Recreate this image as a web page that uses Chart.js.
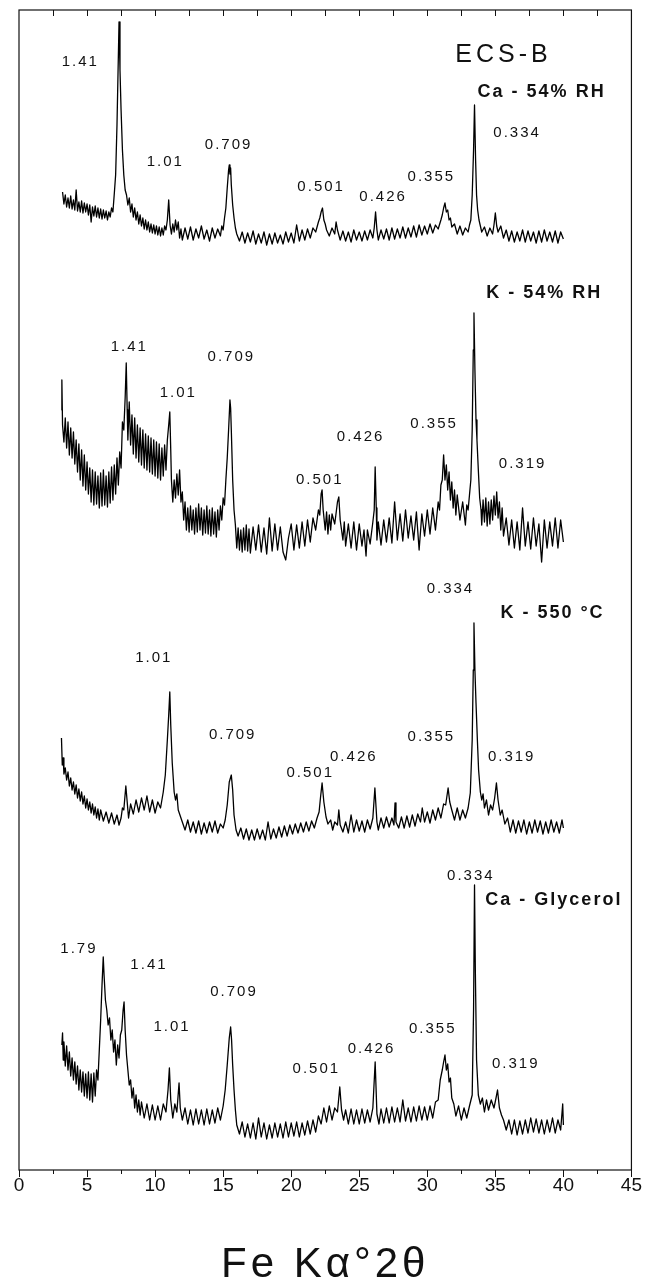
<!DOCTYPE html>
<html>
<head>
<meta charset="utf-8">
<script src="https://cdn.jsdelivr.net/npm/chart.js@4.4.1/dist/chart.umd.min.js"></script>
<style>
  html, body { margin: 0; padding: 0; background: #fff; }
  #xrd { display: block; }
</style>
</head>
<body>
<canvas id="xrd" width="646" height="1281"></canvas>
<script>
// XRD patterns ECS-B, traces stacked (intensity + offset, arbitrary units)
// x = Fe K-alpha degrees 2-theta

const caRh = [
  [3.2,978],[3.3,966],[3.4,975],[3.5,963],[3.6,972],[3.7,962],[3.8,974],[3.9,961],[4.0,970],[4.1,960],
  [4.2,980],[4.3,959],[4.4,968],[4.5,958],[4.6,969],[4.7,957],[4.8,967],[4.9,958],[5.0,966],[5.1,955],
  [5.2,965],[5.3,948],[5.4,963],[5.5,954],[5.6,964],[5.7,953],[5.8,962],[5.9,952],[6.0,961],[6.1,951],
  [6.2,960],[6.3,952],[6.4,959],[6.5,950],[6.6,958],[6.7,953],[6.8,962],[6.9,958],[7.0,976],[7.1,995],
  [7.2,1045],[7.28,1100],[7.35,1148],[7.42,1100],[7.5,1060],[7.6,1020],[7.7,995],[7.8,980],[7.9,975],[8.0,965],
  [8.1,972],[8.2,958],[8.3,966],[8.4,953],[8.5,962],[8.6,950],[8.7,958],[8.8,946],[8.9,955],[9.0,944],
  [9.1,952],[9.2,941],[9.3,950],[9.4,940],[9.5,948],[9.6,938],[9.7,946],[9.8,937],[9.9,945],[10.0,936],
  [10.1,944],[10.2,935],[10.3,943],[10.4,934],[10.5,942],[10.6,935],[10.7,944],[10.8,940],[10.9,950],[11.0,970],
  [11.1,945],[11.2,936],[11.3,946],[11.4,938],[11.5,950],[11.6,940],[11.7,948],[11.8,932],[11.9,941],[12.0,930],
  [12.2,942],[12.4,931],[12.6,943],[12.8,930],[13.0,941],[13.2,932],[13.4,944],[13.6,931],[13.8,940],[14.0,929],
  [14.2,942],[14.4,932],[14.6,941],[14.8,934],[14.9,944],[15.0,940],[15.1,952],[15.2,962],[15.3,982],[15.4,1000],
  [15.45,1005],[15.5,996],[15.55,1002],[15.6,985],[15.7,965],[15.8,952],[15.9,942],[16.0,936],[16.2,929],[16.4,938],
  [16.6,927],[16.8,937],[17.0,928],[17.2,939],[17.4,926],[17.6,936],[17.8,927],[18.0,938],[18.2,925],[18.4,936],
  [18.6,926],[18.8,937],[19.0,927],[19.2,935],[19.4,926],[19.6,938],[19.8,928],[20.0,937],[20.2,927],[20.4,945],
  [20.6,929],[20.8,940],[21.0,930],[21.2,941],[21.4,932],[21.6,942],[21.8,938],[22.0,948],[22.1,952],[22.2,958],
  [22.3,962],[22.4,950],[22.5,946],[22.6,940],[22.8,934],[23.0,942],[23.2,936],[23.3,948],[23.4,940],[23.6,930],
  [23.8,939],[24.0,929],[24.2,938],[24.4,928],[24.6,940],[24.8,930],[25.0,938],[25.2,929],[25.4,939],[25.6,930],
  [25.8,940],[26.0,932],[26.1,942],[26.2,958],[26.3,940],[26.4,930],[26.6,940],[26.8,931],[27.0,941],[27.2,930],
  [27.4,942],[27.6,931],[27.8,941],[28.0,932],[28.2,943],[28.4,932],[28.6,942],[28.8,933],[29.0,944],[29.2,933],
  [29.4,945],[29.6,935],[29.8,944],[30.0,936],[30.2,946],[30.4,937],[30.6,945],[30.8,941],[31.0,950],[31.1,955],
  [31.2,962],[31.3,967],[31.4,958],[31.5,960],[31.6,950],[31.7,952],[31.8,943],[32.0,946],[32.2,936],[32.4,944],
  [32.6,935],[32.8,942],[33.0,938],[33.1,945],[33.2,950],[33.3,975],[33.4,1020],[33.47,1065],[33.55,1010],[33.62,975],
  [33.7,960],[33.8,950],[33.9,944],[34.0,938],[34.2,943],[34.4,934],[34.6,942],[34.8,936],[34.9,945],[35.0,957],
  [35.1,944],[35.2,938],[35.4,944],[35.6,932],[35.8,940],[36.0,929],[36.2,939],[36.4,928],[36.6,938],[36.8,929],
  [37.0,940],[37.2,928],[37.4,939],[37.6,929],[37.8,938],[38.0,927],[38.2,939],[38.4,928],[38.6,940],[38.8,929],
  [39.0,938],[39.2,928],[39.4,939],[39.6,927],[39.8,938],[40.0,931]
];

const kRh = [
  [3.12,760],[3.15,790],[3.2,745],[3.3,728],[3.4,752],[3.5,722],[3.6,748],[3.7,715],[3.8,742],[3.9,712],
  [4.0,738],[4.1,706],[4.2,730],[4.3,698],[4.4,726],[4.5,690],[4.6,720],[4.7,684],[4.8,715],[4.9,680],
  [5.0,708],[5.1,676],[5.2,702],[5.3,668],[5.4,700],[5.5,665],[5.6,698],[5.7,666],[5.8,694],[5.9,662],
  [6.0,697],[6.1,664],[6.2,700],[6.3,665],[6.4,694],[6.5,663],[6.6,698],[6.7,667],[6.8,703],[6.9,670],
  [7.0,705],[7.1,676],[7.2,712],[7.3,685],[7.4,718],[7.5,702],[7.6,748],[7.7,740],[7.8,772],[7.88,807],
  [7.95,760],[8.0,730],[8.1,768],[8.2,725],[8.3,755],[8.4,716],[8.5,752],[8.6,712],[8.7,745],[8.8,708],
  [8.9,742],[9.0,705],[9.1,740],[9.2,702],[9.3,736],[9.4,700],[9.5,734],[9.6,698],[9.7,732],[9.8,696],
  [9.9,730],[10.0,694],[10.1,728],[10.2,692],[10.3,726],[10.4,690],[10.5,722],[10.6,694],[10.7,725],[10.8,700],
  [10.9,730],[11.0,745],[11.08,758],[11.15,720],[11.2,690],[11.3,668],[11.4,690],[11.5,672],[11.6,696],[11.7,675],
  [11.8,700],[11.9,668],[12.0,678],[12.1,650],[12.2,668],[12.3,640],[12.4,662],[12.5,638],[12.6,664],[12.7,640],
  [12.8,660],[12.9,636],[13.0,662],[13.1,638],[13.2,666],[13.3,640],[13.4,662],[13.5,635],[13.6,660],[13.7,637],
  [13.8,664],[13.9,636],[14.0,660],[14.1,634],[14.2,662],[14.3,636],[14.4,658],[14.5,633],[14.6,660],[14.7,640],
  [14.8,664],[14.9,650],[15.0,672],[15.1,665],[15.2,690],[15.3,712],[15.4,740],[15.5,770],[15.55,762],[15.6,740],
  [15.7,690],[15.8,660],[15.9,645],[16.0,622],[16.1,642],[16.2,620],[16.3,640],[16.4,618],[16.5,642],[16.6,620],
  [16.7,645],[16.8,619],[16.9,641],[17.0,617],[17.2,643],[17.4,620],[17.6,645],[17.8,618],[18.0,642],[18.2,616],
  [18.4,652],[18.6,619],[18.8,646],[19.0,620],[19.2,643],[19.4,618],[19.6,610],[19.8,632],[20.0,646],[20.2,620],
  [20.4,645],[20.6,622],[20.8,648],[21.0,624],[21.2,650],[21.4,628],[21.6,652],[21.8,640],[22.0,660],[22.1,655],
  [22.2,676],[22.27,680],[22.35,660],[22.5,640],[22.6,658],[22.7,636],[22.8,655],[22.9,640],[23.0,656],[23.2,646],
  [23.4,668],[23.5,673],[23.6,650],[23.7,640],[23.8,630],[23.9,648],[24.0,624],[24.2,646],[24.4,622],[24.6,648],
  [24.8,620],[25.0,646],[25.2,624],[25.35,640],[25.5,614],[25.6,640],[25.8,626],[26.0,648],[26.1,660],[26.17,703],
  [26.25,662],[26.3,630],[26.4,648],[26.6,625],[26.8,650],[27.0,628],[27.2,652],[27.4,627],[27.6,668],[27.8,630],
  [28.0,656],[28.2,629],[28.4,660],[28.6,632],[28.8,654],[29.0,630],[29.2,658],[29.4,620],[29.6,656],[29.8,634],
  [30.0,660],[30.2,636],[30.4,662],[30.6,640],[30.8,668],[30.9,660],[31.0,685],[31.1,690],[31.2,715],[31.3,690],
  [31.4,705],[31.5,680],[31.6,698],[31.7,670],[31.8,688],[31.9,662],[32.0,680],[32.1,655],[32.2,675],[32.4,650],
  [32.6,668],[32.8,645],[32.9,665],[33.0,660],[33.1,675],[33.2,690],[33.3,740],[33.38,820],[33.43,857],[33.5,800],
  [33.58,750],[33.65,730],[33.75,700],[33.85,672],[33.95,660],[34.0,645],[34.1,670],[34.2,648],[34.3,672],[34.4,644],
  [34.5,668],[34.6,646],[34.7,670],[34.8,650],[34.9,674],[35.0,655],[35.1,678],[35.2,652],[35.3,668],[35.4,640],
  [35.5,662],[35.6,634],[35.8,652],[36.0,625],[36.2,650],[36.4,622],[36.6,648],[36.8,620],[37.0,662],[37.2,624],
  [37.4,648],[37.6,621],[37.8,652],[38.0,624],[38.2,646],[38.4,608],[38.6,650],[38.8,622],[39.0,648],[39.2,624],
  [39.4,652],[39.6,622],[39.8,650],[40.0,628]
];

const k550 = [
  [3.12,432],[3.18,405],[3.25,412],[3.3,396],[3.4,402],[3.5,390],[3.6,398],[3.7,384],[3.8,392],[3.9,380],
  [4.0,388],[4.1,376],[4.2,385],[4.3,372],[4.4,381],[4.5,369],[4.6,378],[4.7,366],[4.8,374],[4.9,362],
  [5.0,371],[5.1,360],[5.2,368],[5.3,357],[5.4,366],[5.5,355],[5.6,363],[5.7,352],[5.8,361],[5.9,350],
  [6.0,360],[6.2,349],[6.4,358],[6.6,347],[6.8,357],[7.0,346],[7.2,355],[7.35,345],[7.5,352],[7.6,362],
  [7.7,360],[7.85,384],[7.95,368],[8.05,352],[8.2,366],[8.4,356],[8.6,370],[8.8,358],[9.0,372],[9.2,360],
  [9.4,374],[9.6,358],[9.8,370],[10.0,357],[10.2,368],[10.4,362],[10.6,378],[10.75,395],[10.9,430],[11.0,455],
  [11.08,478],[11.15,445],[11.26,407],[11.4,378],[11.5,370],[11.6,376],[11.7,360],[11.8,356],[12.0,348],[12.2,340],
  [12.4,350],[12.6,338],[12.8,348],[13.0,337],[13.2,349],[13.4,336],[13.6,347],[13.8,337],[14.0,348],[14.2,338],
  [14.4,349],[14.6,337],[14.8,346],[15.0,342],[15.15,350],[15.3,365],[15.45,388],[15.6,395],[15.7,380],[15.8,355],
  [15.95,340],[16.1,334],[16.3,342],[16.5,331],[16.7,341],[16.9,330],[17.1,340],[17.3,330],[17.5,341],[17.7,331],
  [17.9,340],[18.1,330],[18.3,348],[18.5,331],[18.7,341],[18.9,332],[19.1,343],[19.3,333],[19.5,344],[19.7,334],
  [19.9,345],[20.1,336],[20.3,346],[20.5,337],[20.7,347],[20.9,338],[21.1,348],[21.3,339],[21.5,349],[21.7,342],
  [21.9,352],[22.05,358],[22.15,372],[22.27,387],[22.4,368],[22.56,353],[22.7,346],[22.9,350],[23.05,340],[23.2,348],
  [23.4,345],[23.5,360],[23.6,345],[23.8,338],[24.0,348],[24.2,337],[24.4,355],[24.6,338],[24.8,350],[25.0,339],
  [25.2,349],[25.4,338],[25.6,350],[25.8,341],[26.0,352],[26.15,382],[26.3,348],[26.4,340],[26.6,352],[26.8,342],
  [27.0,353],[27.2,343],[27.4,352],[27.55,345],[27.63,367],[27.7,348],[27.9,342],[28.1,353],[28.3,342],[28.5,354],
  [28.7,343],[28.9,355],[29.1,344],[29.3,356],[29.5,348],[29.63,362],[29.8,348],[30.0,358],[30.2,347],[30.4,360],
  [30.6,350],[30.8,362],[31.0,352],[31.2,366],[31.35,365],[31.53,382],[31.65,368],[31.8,360],[32.0,350],[32.2,362],
  [32.4,350],[32.6,360],[32.8,352],[33.0,362],[33.16,377],[33.3,430],[33.38,500],[33.43,547],[33.5,500],[33.58,467],
  [33.68,430],[33.77,400],[33.9,378],[34.0,370],[34.1,376],[34.2,362],[34.35,370],[34.5,355],[34.65,365],[34.8,360],
  [34.95,372],[35.08,387],[35.2,370],[35.36,355],[35.5,360],[35.7,346],[35.9,352],[36.1,338],[36.3,350],[36.5,337],
  [36.7,349],[36.9,338],[37.1,350],[37.3,336],[37.5,348],[37.7,337],[37.9,350],[38.1,338],[38.3,349],[38.5,336],
  [38.7,348],[38.9,337],[39.1,350],[39.3,338],[39.5,348],[39.7,337],[39.9,350],[40.0,342]
];

const caGly = [
  [3.15,125],[3.2,137],[3.25,110],[3.3,128],[3.4,104],[3.5,124],[3.6,100],[3.7,118],[3.8,94],[3.9,112],
  [4.0,90],[4.1,108],[4.2,86],[4.3,104],[4.4,80],[4.5,100],[4.6,78],[4.7,98],[4.8,74],[4.9,96],
  [5.0,72],[5.1,98],[5.2,70],[5.3,96],[5.4,68],[5.5,97],[5.6,74],[5.7,100],[5.8,90],[5.9,120],
  [6.0,150],[6.1,185],[6.19,213],[6.25,195],[6.35,170],[6.45,160],[6.55,145],[6.65,152],[6.75,130],[6.85,140],
  [6.95,118],[7.05,130],[7.15,105],[7.25,125],[7.35,112],[7.45,135],[7.55,140],[7.65,160],[7.72,168],[7.8,140],
  [7.9,115],[8.0,100],[8.1,85],[8.2,90],[8.3,72],[8.4,82],[8.5,62],[8.6,75],[8.7,58],[8.8,70],
  [8.9,55],[9.0,68],[9.2,52],[9.4,66],[9.6,50],[9.8,65],[10.0,50],[10.2,64],[10.4,50],[10.6,66],
  [10.8,58],[10.95,80],[11.05,102],[11.15,70],[11.3,52],[11.45,66],[11.6,58],[11.76,87],[11.85,62],[12.0,50],
  [12.2,62],[12.4,46],[12.6,60],[12.8,45],[13.0,61],[13.2,46],[13.4,60],[13.6,45],[13.8,61],[14.0,46],
  [14.2,60],[14.4,47],[14.6,62],[14.8,50],[15.0,64],[15.15,80],[15.3,105],[15.45,132],[15.55,143],[15.62,130],
  [15.7,105],[15.8,80],[15.9,60],[16.0,45],[16.2,36],[16.4,48],[16.6,33],[16.8,46],[17.0,32],[17.2,47],
  [17.4,31],[17.6,52],[17.8,33],[18.0,47],[18.2,31],[18.4,45],[18.6,32],[18.8,47],[19.0,33],[19.2,46],
  [19.4,32],[19.6,48],[19.8,33],[20.0,47],[20.2,34],[20.4,48],[20.6,33],[20.8,47],[21.0,35],[21.2,49],
  [21.4,36],[21.6,50],[21.8,38],[22.0,54],[22.2,46],[22.4,62],[22.6,48],[22.8,64],[23.0,50],[23.2,62],
  [23.4,58],[23.57,83],[23.7,60],[23.85,50],[24.0,60],[24.2,46],[24.4,61],[24.6,46],[24.8,60],[25.0,46],
  [25.2,61],[25.4,47],[25.6,60],[25.8,48],[26.0,62],[26.17,108],[26.3,56],[26.45,46],[26.6,61],[26.8,47],
  [27.0,62],[27.2,47],[27.4,63],[27.6,48],[27.8,62],[28.0,48],[28.2,70],[28.4,49],[28.6,62],[28.8,48],
  [29.0,63],[29.2,49],[29.4,64],[29.6,50],[29.8,63],[30.0,50],[30.2,64],[30.4,52],[30.6,68],[30.8,70],
  [30.95,90],[31.1,100],[31.2,108],[31.3,115],[31.4,100],[31.5,106],[31.6,88],[31.7,92],[31.8,72],[31.95,66],
  [32.1,54],[32.3,64],[32.5,50],[32.7,62],[32.9,52],[33.1,64],[33.3,75],[33.4,160],[33.47,285],[33.53,200],
  [33.62,110],[33.75,75],[33.9,66],[34.05,72],[34.2,58],[34.35,70],[34.5,60],[34.7,70],[34.9,62],[35.05,72],
  [35.16,80],[35.3,62],[35.45,55],[35.6,50],[35.8,40],[36.0,50],[36.2,36],[36.4,50],[36.6,35],[36.8,49],
  [37.0,36],[37.2,50],[37.4,37],[37.6,52],[37.8,38],[38.0,51],[38.2,37],[38.4,50],[38.6,36],[38.8,50],
  [39.0,38],[39.2,52],[39.4,37],[39.6,50],[39.8,40],[39.95,66],[40.0,45]
];

// d-spacing (nm) labels placed next to the peaks: [text, 2theta, height]
const caRhPeaks = [['1.41',4.5,1108],['1.01',10.75,1008],['0.709',15.4,1025],['0.501',22.2,983],
  ['0.426',26.75,973],['0.355',30.3,993],['0.334',36.6,1037]];
const kRhPeaks = [['1.41',8.1,823],['1.01',11.7,777],['0.709',15.6,813],['0.501',22.1,690],
  ['0.426',25.1,733],['0.355',30.5,746],['0.319',37.0,706]];
const k550Peaks = [['0.334',31.7,581],['1.01',9.9,512],['0.709',15.7,435],['0.501',21.4,397],
  ['0.426',24.6,413],['0.355',30.3,433],['0.319',36.2,413]];
const caGlyPeaks = [['0.334',33.2,294],['1.79',4.4,221],['1.41',9.55,205],['1.01',11.25,143],
  ['0.709',15.8,178],['0.501',21.85,101],['0.426',25.9,121],['0.355',30.4,141],['0.319',36.5,106]];

// sample names: [text, 2theta, height]
const traceNames = [['Ca - 54% RH',38.4,1078],['K - 54% RH',38.6,877],['K - 550 °C',39.2,557],['Ca - Glycerol',39.3,270]];
const figTitle = ['ECS-B',35.6,1115];

const xTitle = 'Fe K\u03B1\u00B02\u03B8';
const FONT = "'Liberation Sans', Arial, sans-serif";

function toPoints(arr) {
  return arr.map(p => ({ x: p[0], y: p[1] }));
}

function traceSet(arr) {
  return {
    data: toPoints(arr),
    borderColor: '#000',
    borderWidth: 1.3,
    borderJoinStyle: 'round',
    pointRadius: 0,
    tension: 0,
    fill: false
  };
}

// frame, inside ticks on top, outside ticks at the bottom
const framePlugin = {
  id: 'frame',
  afterDraw(chart) {
    const ctx = chart.ctx;
    const a = chart.chartArea;
    const xs = chart.scales.x;
    ctx.save();
    ctx.strokeStyle = '#111';
    ctx.lineWidth = 1.2;
    ctx.strokeRect(a.left, a.top, a.right - a.left, a.bottom - a.top);
    ctx.lineWidth = 1;
    ctx.beginPath();
    for (let v = xs.min; v <= xs.max + 0.001; v += 2.5) {
      const px = Math.round(xs.getPixelForValue(v)) + 0.5;
      const major = Math.abs(v % 5) < 0.001;
      ctx.moveTo(px, a.bottom);
      ctx.lineTo(px, a.bottom + (major ? 7 : 4));
      if (v > xs.min && v < xs.max) {
        ctx.moveTo(px, a.top);
        ctx.lineTo(px, a.top + 6);
      }
    }
    ctx.stroke();
    ctx.restore();
  }
};

// text labels placed in data coordinates
const labelPlugin = {
  id: 'labels',
  afterDatasetsDraw(chart) {
    const ctx = chart.ctx;
    const xs = chart.scales.x, ys = chart.scales.y;
    ctx.save();
    ctx.fillStyle = '#111';
    ctx.textAlign = 'center';
    ctx.textBaseline = 'middle';
    const put = (t, x, y) => ctx.fillText(t, xs.getPixelForValue(x), ys.getPixelForValue(y));

    ctx.font = '15px ' + FONT;
    ctx.letterSpacing = '2px';
    [caRhPeaks, kRhPeaks, k550Peaks, caGlyPeaks].forEach(list => list.forEach(l => put(l[0], l[1], l[2])));

    ctx.font = 'bold 18px ' + FONT;
    ctx.letterSpacing = '2px';
    traceNames.forEach(l => put(l[0], l[1], l[2]));

    ctx.font = '25px ' + FONT;
    ctx.letterSpacing = '4px';
    put(figTitle[0], figTitle[1], figTitle[2]);

    // axis title
    ctx.font = '42px ' + FONT;
    ctx.letterSpacing = '4px';
    ctx.textBaseline = 'alphabetic';
    ctx.fillText(xTitle, (chart.chartArea.left + chart.chartArea.right) / 2, 1277);
    ctx.restore();
  }
};

new Chart(document.getElementById('xrd'), {
  type: 'line',
  data: {
    datasets: [traceSet(caRh), traceSet(kRh), traceSet(k550), traceSet(caGly)]
  },
  options: {
    responsive: false,
    animation: false,
    devicePixelRatio: 1,
    parsing: false,
    layout: { padding: { top: 10, left: 19, right: 12.5, bottom: 0 } },
    plugins: {
      legend: { display: false },
      tooltip: { enabled: false },
      title: { display: false }
    },
    scales: {
      x: {
        type: 'linear',
        min: 0,
        max: 45,
        grid: { display: false, drawTicks: false },
        border: { display: false },
        ticks: {
          stepSize: 5,
          padding: 4,
          color: '#111',
          font: { family: FONT, size: 19 },
          maxRotation: 0
        },
        afterFit(scale) { scale.height = 111; }
      },
      y: {
        type: 'linear',
        min: 0,
        max: 1160,
        display: false
      }
    }
  },
  plugins: [framePlugin, labelPlugin]
});
</script>
</body>
</html>
